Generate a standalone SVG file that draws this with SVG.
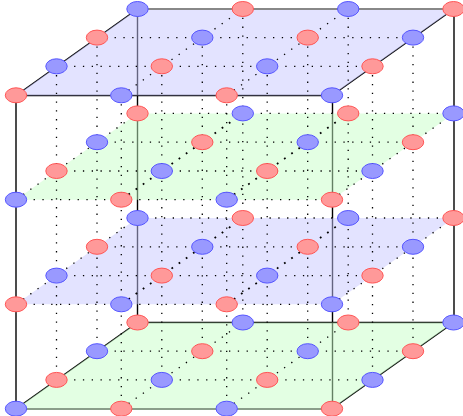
<svg xmlns="http://www.w3.org/2000/svg" width="463" height="416" viewBox="0 0 463 416">
<style>
.e{fill:none;stroke:#000;stroke-width:1.4}
.eg{fill:none;stroke:#888;stroke-width:2}
.eh{fill:none;stroke:#8a9f8a;stroke-width:2}
.d{fill:none;stroke:#000;stroke-width:1.3;stroke-dasharray:1.3 7.5}
.dd{fill:none;stroke:#000;stroke-width:1.8;stroke-dasharray:1.8 7}
.pb{fill:#c8c8ff;fill-opacity:.5;stroke:none}
.pg{fill:#c8ffc8;fill-opacity:.5;stroke:none}
.b ellipse{fill:#9999ff;stroke:#5555ff;stroke-width:1}
.r ellipse{fill:#ff9999;stroke:#ff5555;stroke-width:1}
</style>
<g id="connectors">
<path class="e" d="M16 95.5V408.7M137.5 9V322.7M332.5 95.5V408.7M454 9V322.7"/>
<path class="e" d="M16 95.5H332M16 95.5L137.5 9M332 95.5L453.9 9"/>
<path class="e" d="M137.5 322.5H453.9M16 408.7L137.5 322.5M332 408.7L453.9 322.5"/>
</g>
<g id="planes">
<path class="pb" d="M16 95.5H332L453.9 9H137.5Z"/>
<path class="pg" d="M16 199.7H332L453.9 113.4H137.5Z"/>
<path class="pb" d="M16 304.3H332L453.9 218H137.5Z"/>
<path class="pg" d="M16 408.7H332L453.9 322.5H137.5Z"/>
<path class="eg" d="M137.5 9H453.9"/>
<path class="eh" d="M16 409H332"/>
</g>
<g id="dotted">
<path class="d" d="M56.5 66.3V379.9M97 37.6V351.2M121.3 95.5V408.7M161.8 66.3V379.9M202.3 37.6V351.2M226.7 95.5V408.7M242.8 9V322.7M267.2 66.3V379.9M307.7 37.6V351.2M348.2 9V322.7M372.5 66.3V379.9M413 37.6V351.2"/>
<path class="d" d="M97 37.6H413M56.5 66.3H372.5M121.3 95.5L242.8 9M226.7 95.5L348.2 9"/>
<path class="d" d="M137.5 113.4H453.9M97 142.2H413M56.5 171H372.5M16 199.7H332M16 199.7L137.5 113.4M332 199.7L453.9 113.4"/>
<path class="dd" d="M121.3 199.7L242.8 113.4M226.7 199.7L348.2 113.4"/>
<path class="d" d="M137.5 218H453.9M97 246.8H413M56.5 275.6H372.5M16 304.3H332M16 304.3L137.5 218M332 304.3L453.9 218"/>
<path class="dd" d="M121.3 304.3L242.8 218M226.7 304.3L348.2 218"/>
<path class="d" d="M97 351.2H413M56.5 379.9H372.5M121.3 408.7L242.8 322.5M226.7 408.7L348.2 322.5"/>
</g>
<g id="n0" class="r"><ellipse cx="16" cy="95.3" rx="10.7" ry="7.5"/></g>
<g id="n1" class="b"><ellipse cx="121.3" cy="95.3" rx="10.7" ry="7.5"/></g>
<g id="n2" class="r"><ellipse cx="226.7" cy="95.3" rx="10.7" ry="7.5"/></g>
<g id="n3" class="b"><ellipse cx="332" cy="95.3" rx="10.7" ry="7.5"/></g>
<g id="n4" class="b"><ellipse cx="56.5" cy="66.3" rx="10.7" ry="7.5"/></g>
<g id="n5" class="r"><ellipse cx="161.8" cy="66.3" rx="10.7" ry="7.5"/></g>
<g id="n6" class="b"><ellipse cx="267.2" cy="66.3" rx="10.7" ry="7.5"/></g>
<g id="n7" class="r"><ellipse cx="372.5" cy="66.3" rx="10.7" ry="7.5"/></g>
<g id="n8" class="r"><ellipse cx="97" cy="37.6" rx="10.7" ry="7.5"/></g>
<g id="n9" class="b"><ellipse cx="202.3" cy="37.6" rx="10.7" ry="7.5"/></g>
<g id="n10" class="r"><ellipse cx="307.7" cy="37.6" rx="10.7" ry="7.5"/></g>
<g id="n11" class="b"><ellipse cx="413" cy="37.6" rx="10.7" ry="7.5"/></g>
<g id="n12" class="b"><ellipse cx="137.5" cy="9" rx="10.7" ry="7.5"/></g>
<g id="n13" class="r"><ellipse cx="242.8" cy="9" rx="10.7" ry="7.5"/></g>
<g id="n14" class="b"><ellipse cx="348.2" cy="9" rx="10.7" ry="7.5"/></g>
<g id="n15" class="r"><ellipse cx="453.5" cy="9" rx="10.7" ry="7.5"/></g>
<g id="n16" class="b"><ellipse cx="16" cy="199.7" rx="10.7" ry="7.5"/></g>
<g id="n17" class="r"><ellipse cx="121.3" cy="199.7" rx="10.7" ry="7.5"/></g>
<g id="n18" class="b"><ellipse cx="226.7" cy="199.7" rx="10.7" ry="7.5"/></g>
<g id="n19" class="r"><ellipse cx="332" cy="199.7" rx="10.7" ry="7.5"/></g>
<g id="n20" class="r"><ellipse cx="56.5" cy="171" rx="10.7" ry="7.5"/></g>
<g id="n21" class="b"><ellipse cx="161.8" cy="171" rx="10.7" ry="7.5"/></g>
<g id="n22" class="r"><ellipse cx="267.2" cy="171" rx="10.7" ry="7.5"/></g>
<g id="n23" class="b"><ellipse cx="372.5" cy="171" rx="10.7" ry="7.5"/></g>
<g id="n24" class="b"><ellipse cx="97" cy="142.2" rx="10.7" ry="7.5"/></g>
<g id="n25" class="r"><ellipse cx="202.3" cy="142.2" rx="10.7" ry="7.5"/></g>
<g id="n26" class="b"><ellipse cx="307.7" cy="142.2" rx="10.7" ry="7.5"/></g>
<g id="n27" class="r"><ellipse cx="413" cy="142.2" rx="10.7" ry="7.5"/></g>
<g id="n28" class="r"><ellipse cx="137.5" cy="113.4" rx="10.7" ry="7.5"/></g>
<g id="n29" class="b"><ellipse cx="242.8" cy="113.4" rx="10.7" ry="7.5"/></g>
<g id="n30" class="r"><ellipse cx="348.2" cy="113.4" rx="10.7" ry="7.5"/></g>
<g id="n31" class="b"><ellipse cx="453.5" cy="113.4" rx="10.7" ry="7.5"/></g>
<g id="n32" class="r"><ellipse cx="16" cy="304.3" rx="10.7" ry="7.5"/></g>
<g id="n33" class="b"><ellipse cx="121.3" cy="304.3" rx="10.7" ry="7.5"/></g>
<g id="n34" class="r"><ellipse cx="226.7" cy="304.3" rx="10.7" ry="7.5"/></g>
<g id="n35" class="b"><ellipse cx="332" cy="304.3" rx="10.7" ry="7.5"/></g>
<g id="n36" class="b"><ellipse cx="56.5" cy="275.6" rx="10.7" ry="7.5"/></g>
<g id="n37" class="r"><ellipse cx="161.8" cy="275.6" rx="10.7" ry="7.5"/></g>
<g id="n38" class="b"><ellipse cx="267.2" cy="275.6" rx="10.7" ry="7.5"/></g>
<g id="n39" class="r"><ellipse cx="372.5" cy="275.6" rx="10.7" ry="7.5"/></g>
<g id="n40" class="r"><ellipse cx="97" cy="246.8" rx="10.7" ry="7.5"/></g>
<g id="n41" class="b"><ellipse cx="202.3" cy="246.8" rx="10.7" ry="7.5"/></g>
<g id="n42" class="r"><ellipse cx="307.7" cy="246.8" rx="10.7" ry="7.5"/></g>
<g id="n43" class="b"><ellipse cx="413" cy="246.8" rx="10.7" ry="7.5"/></g>
<g id="n44" class="b"><ellipse cx="137.5" cy="218" rx="10.7" ry="7.5"/></g>
<g id="n45" class="r"><ellipse cx="242.8" cy="218" rx="10.7" ry="7.5"/></g>
<g id="n46" class="b"><ellipse cx="348.2" cy="218" rx="10.7" ry="7.5"/></g>
<g id="n47" class="r"><ellipse cx="453.5" cy="218" rx="10.7" ry="7.5"/></g>
<g id="n48" class="b"><ellipse cx="16" cy="408.7" rx="10.7" ry="7.5"/></g>
<g id="n49" class="r"><ellipse cx="121.3" cy="408.7" rx="10.7" ry="7.5"/></g>
<g id="n50" class="b"><ellipse cx="226.7" cy="408.7" rx="10.7" ry="7.5"/></g>
<g id="n51" class="r"><ellipse cx="332" cy="408.7" rx="10.7" ry="7.5"/></g>
<g id="n52" class="r"><ellipse cx="56.5" cy="379.9" rx="10.7" ry="7.5"/></g>
<g id="n53" class="b"><ellipse cx="161.8" cy="379.9" rx="10.7" ry="7.5"/></g>
<g id="n54" class="r"><ellipse cx="267.2" cy="379.9" rx="10.7" ry="7.5"/></g>
<g id="n55" class="b"><ellipse cx="372.5" cy="379.9" rx="10.7" ry="7.5"/></g>
<g id="n56" class="b"><ellipse cx="97" cy="351.2" rx="10.7" ry="7.5"/></g>
<g id="n57" class="r"><ellipse cx="202.3" cy="351.2" rx="10.7" ry="7.5"/></g>
<g id="n58" class="b"><ellipse cx="307.7" cy="351.2" rx="10.7" ry="7.5"/></g>
<g id="n59" class="r"><ellipse cx="413" cy="351.2" rx="10.7" ry="7.5"/></g>
<g id="n60" class="r"><ellipse cx="137.5" cy="322.5" rx="10.7" ry="7.5"/></g>
<g id="n61" class="b"><ellipse cx="242.8" cy="322.5" rx="10.7" ry="7.5"/></g>
<g id="n62" class="r"><ellipse cx="348.2" cy="322.5" rx="10.7" ry="7.5"/></g>
<g id="n63" class="b"><ellipse cx="453.5" cy="322.5" rx="10.7" ry="7.5"/></g>
</svg>
